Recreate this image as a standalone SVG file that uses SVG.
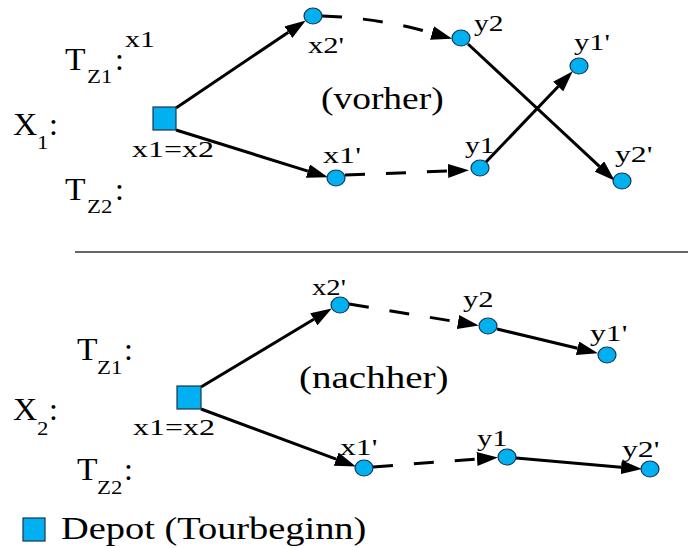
<svg xmlns="http://www.w3.org/2000/svg" width="688" height="548" viewBox="0 0 688 548">
<style>
.node{fill:#00b0f0;stroke:#1b3550;stroke-width:1.2}
.edge{fill:none;stroke:#000;stroke-width:3}
.dash{stroke-dasharray:20 21}
</style>
<defs>
<marker id="ah" markerUnits="userSpaceOnUse" markerWidth="22" markerHeight="14" refX="0" refY="7" orient="auto">
<path d="M0,0 L21,7 L0,14 z" fill="#000"/>
</marker>
</defs>
<rect width="688" height="548" fill="#fff"/>
<line x1="75" y1="252" x2="688" y2="252" stroke="#333" stroke-width="1.5"/>
<g id="connectors">
<path class="edge" d="M176,108 L288.4,32.2" marker-end="url(#ah)"/>
<path class="edge" d="M176,130 L307.9,171.1" marker-end="url(#ah)"/>
<path class="edge dash" d="M322,16 Q380,18 432,33" marker-end="url(#ah)"/>
<path class="edge dash" d="M345,175 L448,171" marker-end="url(#ah)"/>
<path class="edge" d="M468,44 L599.4,166.4" marker-end="url(#ah)"/>
<path class="edge" d="M486,162 L558.2,86.5" marker-end="url(#ah)"/>
<path class="edge" d="M201,387 L313.8,319.3" marker-end="url(#ah)"/>
<path class="edge" d="M201,409 L336.2,459.1" marker-end="url(#ah)"/>
<path class="edge dash" d="M349,304 L458,322" marker-end="url(#ah)"/>
<path class="edge" d="M497,329 L577.5,348.3" marker-end="url(#ah)"/>
<path class="edge dash" d="M373,467 L477,459" marker-end="url(#ah)"/>
<path class="edge" d="M516,458 L621.1,467.2" marker-end="url(#ah)"/>
</g>
<g id="labels-top">
<text font-family="Liberation Serif" font-size="32" transform="translate(65,70) scale(1.05,1)">T</text>
<text font-family="Liberation Serif" font-size="19" transform="translate(87,83) scale(1.2,1)">Z1</text>
<text font-family="Liberation Serif" font-size="32" x="115" y="70">:</text>
<text font-family="Liberation Serif" font-size="32" transform="translate(13,135) scale(1.05,1)">X</text>
<text font-family="Liberation Serif" font-size="19" transform="translate(37,149) scale(1.2,1)">1</text>
<text font-family="Liberation Serif" font-size="32" x="49" y="135">:</text>
<text font-family="Liberation Serif" font-size="32" transform="translate(65,200) scale(1.05,1)">T</text>
<text font-family="Liberation Serif" font-size="19" transform="translate(87,213) scale(1.2,1)">Z2</text>
<text font-family="Liberation Serif" font-size="32" x="115" y="200">:</text>
<text font-family="Liberation Serif" font-size="23" transform="translate(125,47) scale(1.3,1)">x1</text>
<text font-family="Liberation Serif" font-size="32" transform="translate(321,109) scale(1.17,1)">(vorher)</text>
</g>
<g id="labels-bottom">
<text font-family="Liberation Serif" font-size="32" transform="translate(77,360) scale(1.05,1)">T</text>
<text font-family="Liberation Serif" font-size="19" transform="translate(97,374) scale(1.2,1)">Z1</text>
<text font-family="Liberation Serif" font-size="32" x="124" y="360">:</text>
<text font-family="Liberation Serif" font-size="32" transform="translate(13,420) scale(1.05,1)">X</text>
<text font-family="Liberation Serif" font-size="19" transform="translate(37,435) scale(1.2,1)">2</text>
<text font-family="Liberation Serif" font-size="32" x="49" y="420">:</text>
<text font-family="Liberation Serif" font-size="32" transform="translate(77,480) scale(1.05,1)">T</text>
<text font-family="Liberation Serif" font-size="19" transform="translate(97,494) scale(1.2,1)">Z2</text>
<text font-family="Liberation Serif" font-size="32" x="124" y="480">:</text>
<text font-family="Liberation Serif" font-size="32" transform="translate(299,388) scale(1.22,1)">(nachher)</text>
</g>
<g id="depot1"><rect class="node" x="153" y="107" width="23" height="23"/><text font-family="Liberation Serif" font-size="23" transform="translate(132,157) scale(1.39,1)">x1=x2</text></g>
<g id="x2p-1"><ellipse class="node" cx="313" cy="16" rx="9" ry="8"/><text font-family="Liberation Serif" font-size="23" transform="translate(308,53) scale(1.33,1)">x2'</text></g>
<g id="y2-1"><ellipse class="node" cx="461" cy="38" rx="9" ry="8"/><text font-family="Liberation Serif" font-size="23" transform="translate(474,31) scale(1.28,1)">y2</text></g>
<g id="y1p-1"><ellipse class="node" cx="579" cy="66" rx="9" ry="8"/><text font-family="Liberation Serif" font-size="23" transform="translate(574,50) scale(1.33,1)">y1'</text></g>
<g id="x1p-1"><ellipse class="node" cx="336" cy="178" rx="9" ry="8"/><text font-family="Liberation Serif" font-size="23" transform="translate(323,163) scale(1.4,1)">x1'</text></g>
<g id="y1-1"><ellipse class="node" cx="480" cy="168" rx="9" ry="8"/><text font-family="Liberation Serif" font-size="23" transform="translate(465,153) scale(1.28,1)">y1</text></g>
<g id="y2p-1"><ellipse class="node" cx="622" cy="181" rx="9" ry="8"/><text font-family="Liberation Serif" font-size="23" transform="translate(615,162) scale(1.38,1)">y2'</text></g>
<g id="depot2"><rect class="node" x="177" y="386" width="24" height="23"/><text font-family="Liberation Serif" font-size="23" transform="translate(133,435) scale(1.39,1)">x1=x2</text></g>
<g id="x2p-2"><ellipse class="node" cx="340" cy="305" rx="9" ry="8"/><text font-family="Liberation Serif" font-size="23" transform="translate(312,295) scale(1.25,1)">x2'</text></g>
<g id="y2-2"><ellipse class="node" cx="488" cy="326" rx="9" ry="8"/><text font-family="Liberation Serif" font-size="23" transform="translate(463,307) scale(1.33,1)">y2</text></g>
<g id="y1p-2"><ellipse class="node" cx="607" cy="355" rx="9" ry="8"/><text font-family="Liberation Serif" font-size="23" transform="translate(590,341) scale(1.38,1)">y1'</text></g>
<g id="x1p-2"><ellipse class="node" cx="364" cy="468" rx="9" ry="8"/><text font-family="Liberation Serif" font-size="23" transform="translate(340,455) scale(1.38,1)">x1'</text></g>
<g id="y1-2"><ellipse class="node" cx="507" cy="457" rx="9" ry="8"/><text font-family="Liberation Serif" font-size="23" transform="translate(477,446) scale(1.33,1)">y1</text></g>
<g id="y2p-2"><ellipse class="node" cx="650" cy="469" rx="9" ry="8"/><text font-family="Liberation Serif" font-size="23" transform="translate(622,457) scale(1.38,1)">y2'</text></g>
<g id="legend"><rect class="node" x="23" y="518" width="22" height="23"/><text font-family="Liberation Serif" font-size="32" transform="translate(61,539) scale(1.2,1)">Depot (Tourbeginn)</text></g>
</svg>
